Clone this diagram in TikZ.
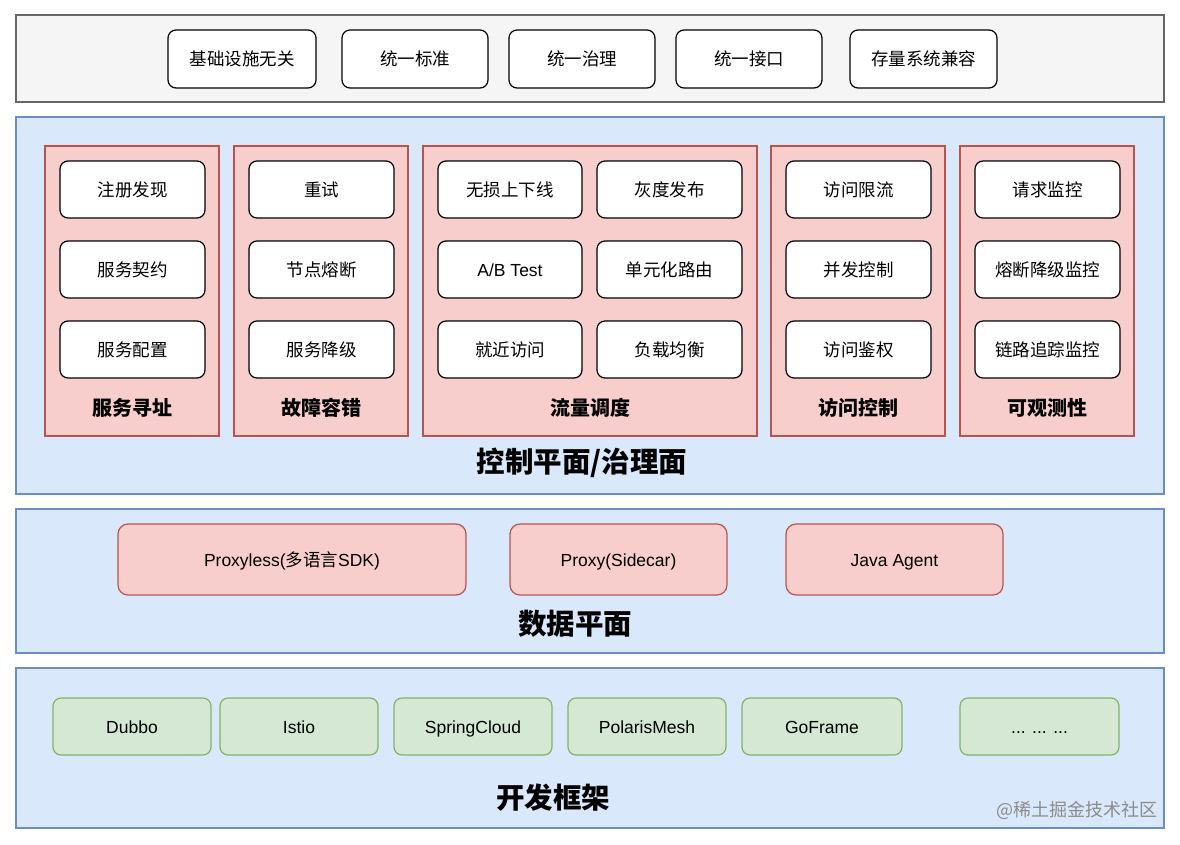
\documentclass[tikz,border=0pt]{standalone}
\usepackage{fontspec}
\setmainfont{Liberation Sans}
\newfontfamily\cjk{Noto Sans CJK SC}
\definecolor{bandgray}{HTML}{F5F5F5}
\definecolor{bandgrayline}{HTML}{666666}
\definecolor{blueband}{HTML}{DAE8FC}
\definecolor{bluebandline}{HTML}{6C8EBF}
\definecolor{pinkfill}{HTML}{F8CECC}
\definecolor{pinkline}{HTML}{B85450}
\definecolor{greenfill}{HTML}{D5E8D4}
\definecolor{greenline}{HTML}{82B366}
\tikzset{
  base/.style={inner sep=0pt, outer sep=0pt, align=center, text height=13pt, text depth=0pt, font=\fontsize{17.5}{20}\selectfont},
  band/.style={base, draw=bluebandline, fill=blueband, line width=1.2pt},
  grayband/.style={base, draw=bandgrayline, fill=bandgray, line width=1.2pt},
  group/.style={base, draw=pinkline, fill=pinkfill, line width=1.2pt},
  wbox/.style={base, draw=black, fill=white, rounded corners=8pt, line width=1.2pt},
  pbox/.style={base, draw=pinkline, fill=pinkfill, rounded corners=10pt, line width=1.2pt},
  gbox/.style={base, draw=greenline, fill=greenfill, rounded corners=8pt, line width=1.2pt},
  glabel/.style={font=\cjk\bfseries\fontsize{20}{22}\selectfont, inner sep=0pt},
  tlabel/.style={font=\cjk\bfseries\fontsize{28.5}{30}\selectfont, inner sep=0pt},
}
\newcommand\bx[7]{\node[#7, minimum width={(#4-#2)*1pt}, minimum height={(#5-#3)*1pt}] (#1) at ({(#2+#4)/2},{(#3+#5)/2}) {#6};}
\begin{document}
\begin{tikzpicture}[x=1pt,y=-1pt]
\fill[white] (0,0) rectangle (1180,844);
\useasboundingbox (0,0) rectangle (1180,844);
% top band
\bx{top}{16}{15}{1164}{102}{}{grayband}
\bx{t1}{168}{30}{316}{88}{\cjk 基础设施无关}{wbox}
\bx{t2}{342}{30}{488}{88}{\cjk 统一标准}{wbox}
\bx{t3}{509}{30}{655}{88}{\cjk 统一治理}{wbox}
\bx{t4}{676}{30}{822}{88}{\cjk 统一接口}{wbox}
\bx{t5}{850}{30}{997}{88}{\cjk 存量系统兼容}{wbox}
% control plane
\bx{cp}{16}{117}{1164}{494}{}{band}
\bx{g1}{45}{146}{219}{436}{}{group}
\bx{g2}{234}{146}{408}{436}{}{group}
\bx{g3}{423}{146}{757}{436}{}{group}
\bx{g4}{771}{146}{945}{436}{}{group}
\bx{g5}{960}{146}{1134}{436}{}{group}
\bx{a1}{60}{161}{205}{218}{\cjk 注册发现}{wbox}
\bx{a2}{60}{241}{205}{298}{\cjk 服务契约}{wbox}
\bx{a3}{60}{321}{205}{378}{\cjk 服务配置}{wbox}
\bx{b1}{249}{161}{394}{218}{\cjk 重试}{wbox}
\bx{b2}{249}{241}{394}{298}{\cjk 节点熔断}{wbox}
\bx{b3}{249}{321}{394}{378}{\cjk 服务降级}{wbox}
\bx{c1}{438}{161}{582}{218}{\cjk 无损上下线}{wbox}
\bx{c2}{597}{161}{742}{218}{\cjk 灰度发布}{wbox}
\bx{c3}{438}{241}{582}{298}{A/B Test}{wbox}
\bx{c4}{597}{241}{742}{298}{\cjk 单元化路由}{wbox}
\bx{c5}{438}{321}{582}{378}{\cjk 就近访问}{wbox}
\bx{c6}{597}{321}{742}{378}{\cjk 负载均衡}{wbox}
\bx{d1}{786}{161}{931}{218}{\cjk 访问限流}{wbox}
\bx{d2}{786}{241}{931}{298}{\cjk 并发控制}{wbox}
\bx{d3}{786}{321}{931}{378}{\cjk 访问鉴权}{wbox}
\bx{e1}{975}{161}{1120}{218}{\cjk 请求监控}{wbox}
\bx{e2}{975}{241}{1120}{298}{\cjk 熔断降级监控}{wbox}
\bx{e3}{975}{321}{1120}{378}{\cjk 链路追踪监控}{wbox}
\node[glabel] (g1l) at (132,408) {服务寻址};
\node[glabel] (g2l) at (321,408) {故障容错};
\node[glabel] (g3l) at (590,408) {流量调度};
\node[glabel] (g4l) at (858,408) {访问控制};
\node[glabel] (g5l) at (1047,408) {可观测性};
\node[tlabel] (cpl) at (582,463) {控制平面/治理面};
% data plane
\bx{dp}{16}{509}{1164}{653}{}{band}
\bx{p1}{118}{524}{466}{595}{Proxyless({\cjk 多语言}SDK)}{pbox}
\bx{p2}{510}{524}{727}{595}{Proxy(Sidecar)}{pbox}
\bx{p3}{786}{524}{1003}{595}{Java Agent}{pbox}
\node[tlabel] (dpl) at (575,624) {数据平面};
% dev frameworks
\bx{df}{16}{668}{1164}{828}{}{band}
\bx{f1}{53}{698}{211}{755}{Dubbo}{gbox}
\bx{f2}{220}{698}{378}{755}{Istio}{gbox}
\bx{f3}{394}{698}{552}{755}{SpringCloud}{gbox}
\bx{f4}{568}{698}{726}{755}{PolarisMesh}{gbox}
\bx{f5}{742}{698}{902}{755}{GoFrame}{gbox}
\bx{f6}{960}{698}{1119}{755}{... ... ...}{gbox}
\node[tlabel] (dfl) at (553,798) {开发框架};
\node[font=\cjk\fontsize{18}{20}\selectfont, text=black!45, inner sep=0pt] (wm) at (1077,810) {@稀土掘金技术社区};
\end{tikzpicture}
\end{document}
